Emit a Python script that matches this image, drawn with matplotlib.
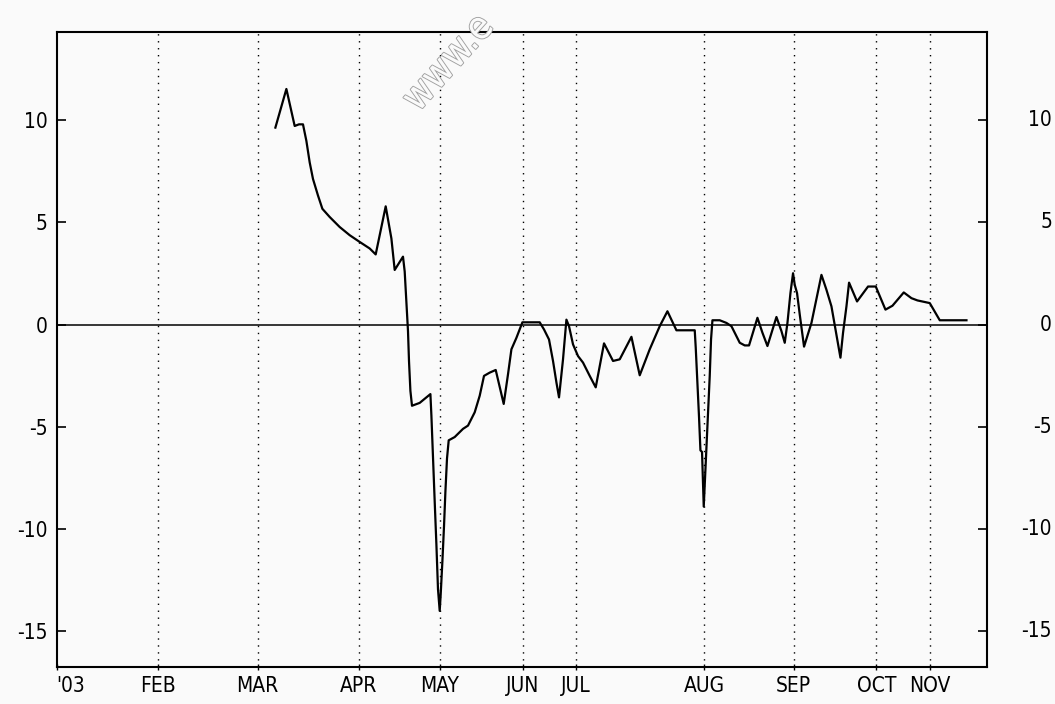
import matplotlib.pyplot as plt
import matplotlib.transforms as mtransforms
import matplotlib.patheffects as pe

# session index (horizontal position) and value of the series
t = [218.7, 229.7, 238, 242.3, 246.3, 249.7, 253, 256.3, 261.3, 265.7,
     273, 283, 293, 303, 313, 319, 329, 334.7, 338, 346.3,
     348, 349.7, 351.3, 352.3, 353.7, 355.3, 363, 373.7, 374.7, 376.3,
     378, 379.7, 381.3, 383, 384, 385.7, 387.3, 388.7, 390.3, 392,
     398, 406.3, 411.3, 418, 423, 427.3, 433, 439, 447, 451.3,
     454.7, 459.7, 465.7, 483, 487.3, 492.3, 496.3, 499.7, 502.3, 506.3,
     509.7, 512.3, 516.3, 521.3, 526.3, 533, 539, 547.3, 556.3, 563,
     574.7, 583, 593, 603, 610.7, 619.7, 638, 639, 640.7, 642.3,
     643.7, 645.3, 646.3, 647, 648, 649.7, 651.3, 653, 654.3, 655.7,
     663, 669.7, 674.7, 678, 683, 688, 692.3, 700.7, 705.7, 710.7,
     719.7, 724.7, 728, 730.7, 733.7, 736.3, 738, 740.3, 743, 747.3,
     754.7, 764.7, 769.7, 774.7, 779, 783.7, 786.3, 789.7, 792.3, 800.3,
     811.3, 819, 828.7, 835.7, 847, 854.7, 860.7, 873, 883, 909.7]
values = [9.63, 11.52, 9.71, 9.79, 9.79, 8.98, 7.93, 7.12, 6.31, 5.66,
          5.26, 4.77, 4.37, 4.04, 3.72, 3.43, 5.78, 4.21, 2.67, 3.32,
          2.59, 1.05, -0.32, -1.78, -3.24, -3.97, -3.83, -3.40, -4.45, -6.55,
          -8.66, -10.76, -12.95, -14.0, -13.19, -11.57, -9.87, -8.17, -6.55, -5.66,
          -5.50, -5.10, -4.94, -4.29, -3.48, -2.51, -2.35, -2.22, -3.88, -2.43,
          -1.21, -0.65, 0.11, 0.11, -0.24, -0.73, -1.78, -2.83, -3.56, -1.70,
          0.24, -0.08, -0.97, -1.54, -1.86, -2.51, -3.07, -0.92, -1.78, -1.70,
          -0.60, -2.48, -1.21, -0.08, 0.65, -0.28, -0.28, -1.13, -2.83, -4.53,
          -6.15, -6.23, -7.85, -8.90, -7.85, -5.99, -4.29, -2.51, -0.73, 0.21,
          0.21, 0.08, -0.08, -0.40, -0.89, -1.02, -1.02, 0.33, -0.40, -1.05,
          0.37, -0.32, -0.89, 0.08, 1.54, 2.51, 1.94, 1.54, 0.49, -1.08,
          0.08, 2.43, 1.70, 0.89, -0.32, -1.62, -0.40, 0.89, 2.05, 1.13,
          1.86, 1.86, 0.73, 0.92, 1.57, 1.29, 1.18, 1.05, 0.21, 0.21]

month_pos = [0, 101, 201, 302, 383, 466, 519, 647.5, 737, 819.5, 873.5]
month_labels = ["'03", "FEB", "MAR", "APR", "MAY", "JUN", "JUL", "AUG", "SEP", "OCT", "NOV"]
y_ticks = [10, 5, 0, -5, -10, -15]

plt.rcParams['font.family'] = ['Liberation Sans Narrow', 'DejaVu Sans']
plt.rcParams['font.stretch'] = 'condensed'

bg = '#fafafa'
fig = plt.figure(figsize=(10.55, 7.04), dpi=100, facecolor=bg)
ax = fig.add_axes([0.0537, 0.0521, 0.8821, 0.902])
ax.set_facecolor(bg)

# dotted month separators and the zero line
for p in month_pos[1:]:
    ax.axvline(p, color='black', linestyle=(0, (1, 4)), linewidth=1.0, zorder=1)
ax.axhline(0, color='black', linewidth=1.1, zorder=2)

ax.plot(t, values, color='black', linewidth=1.6, zorder=3)

ax.set_xlim(0, 930.5)
ax.set_ylim(-16.76, 14.29)

for s in ax.spines.values():
    s.set_linewidth(1.5)

ax.set_yticks(y_ticks)
ax.set_yticklabels([str(v) for v in y_ticks])
ax.tick_params(axis='y', direction='in', length=6.5, width=1.2, right=True,
               labelsize=15, pad=6.5)
ax.set_xticks(month_pos)
ax.set_xticklabels(month_labels)
ax.tick_params(axis='x', direction='inout', length=4, width=1.0, labelsize=15, pad=4)
ax.get_xticklabels()[0].set_horizontalalignment('left')

# right hand labels sit far out, close to the figure edge
trans = mtransforms.blended_transform_factory(ax.transAxes, ax.transData)
for v in y_ticks:
    ax.text(1.0695, v, str(v), transform=trans, ha='right', va='center',
            fontsize=15, clip_on=False)

# faint outlined watermark
fig.text(0.402, 0.832, "www.e", rotation=48, rotation_mode='anchor',
         ha='left', va='bottom', fontsize=28, color=bg,
         path_effects=[pe.withStroke(linewidth=1.3, foreground='#a0a0a0')])

plt.savefig('out.png', dpi=100, facecolor=bg)
plt.close()
